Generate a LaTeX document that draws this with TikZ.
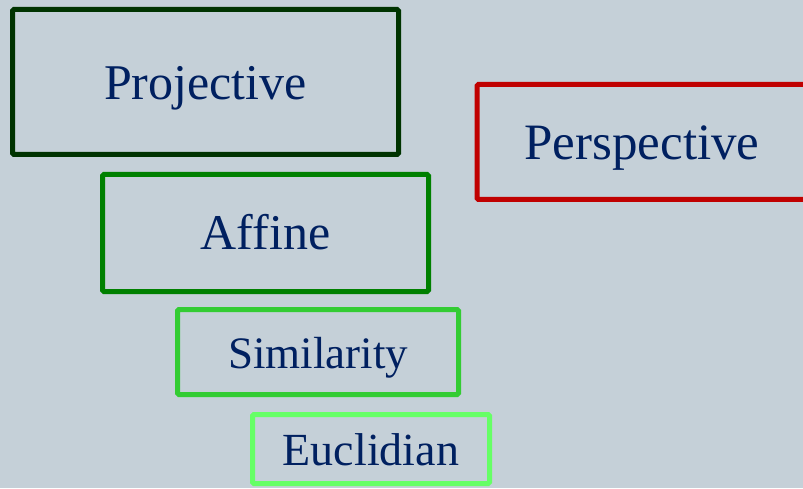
\documentclass[tikz,border=0pt]{standalone}
\usepackage{fontspec}
\setmainfont{Liberation Serif}
\usepackage{tikz}
\definecolor{bg}{HTML}{C5D0D8}
\definecolor{ink}{HTML}{002060}
\definecolor{projcol}{HTML}{003300}
\definecolor{perscol}{HTML}{C00000}
\definecolor{affcol}{HTML}{008000}
\definecolor{simcol}{HTML}{33CC33}
\definecolor{euccol}{HTML}{66FF66}

\begin{document}
\begin{tikzpicture}[x=1pt, y=1pt,
  group/.style={draw=#1, line width=5pt, rounded corners=1.5pt, text=ink, inner sep=0pt, text depth=0pt}]
  \fill[bg] (0,0) rectangle (803,488);
  \useasboundingbox (0,0) rectangle (803,488);
  \clip (0,0) rectangle (803,488);
  \node (proj) [group=projcol, minimum width=386pt, minimum height=145pt, text height=36pt, font=\fontsize{50}{60}\selectfont] at (205.5,406) {Projective};
  \node (pers) [group=perscol, minimum width=330pt, minimum height=115pt, text height=36pt, font=\fontsize{51}{60}\selectfont] at (642,346) {Perspective};
  \node (aff) [group=affcol, minimum width=326pt, minimum height=117pt, text height=34pt, font=\fontsize{50}{60}\selectfont] at (265.5,255) {Affine};
  \node (sim) [group=simcol, minimum width=281pt, minimum height=85pt, text height=32pt, font=\fontsize{45}{54}\selectfont] at (318,136) {Similarity};
  \node (euc) [group=euccol, minimum width=237pt, minimum height=69pt, text height=32pt, font=\fontsize{46}{54}\selectfont] at (371,39) {Euclidian};
\end{tikzpicture}
\end{document}
